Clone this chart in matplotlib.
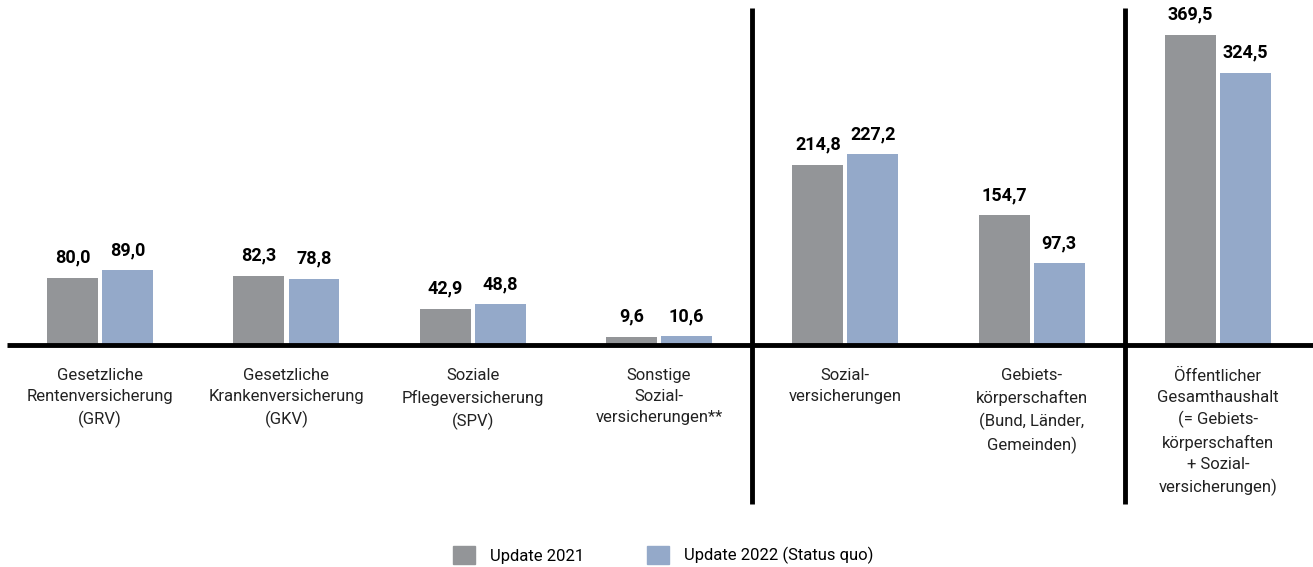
import matplotlib
matplotlib.use("Agg")
import matplotlib.pyplot as plt
from matplotlib.patches import Patch
import numpy as np

categories = [
    "Gesetzliche\nRentenversicherung\n(GRV)",
    "Gesetzliche\nKrankenversicherung\n(GKV)",
    "Soziale\nPflegeversicherung\n(SPV)",
    "Sonstige\nSozial-\nversicherungen**",
    "Sozial-\nversicherungen",
    "Gebiets-\nkörperschaften\n(Bund, Länder,\nGemeinden)",
    "Öffentlicher\nGesamthaushalt\n(= Gebiets-\nkörperschaften\n+ Sozial-\nversicherungen)",
]
update_2021 = [80.0, 82.3, 42.9, 9.6, 214.8, 154.7, 369.5]
update_2022 = [89.0, 78.8, 48.8, 10.6, 227.2, 97.3, 324.5]
series_names = ["Update 2021", "Update 2022 (Status quo)"]

gray = "#939598"
blue = "#94a9c9"

plt.rcParams["font.family"] = ["Roboto", "DejaVu Sans"]

fig = plt.figure(figsize=(13.13, 5.67), dpi=100)
ax = fig.add_axes([0, 0, 1, 1])

x = np.arange(len(categories))
w = 0.273
off = 0.148
b1 = ax.bar(x - off, update_2021, w, color=gray)
b2 = ax.bar(x + off, update_2022, w, color=blue)

fmt = lambda v: f"{v:.1f}".replace(".", ",")
for bars, vals in ((b1, update_2021), (b2, update_2022)):
    for r, v in zip(bars, vals):
        ax.annotate(fmt(v), (r.get_x() + r.get_width() / 2, v),
                    xytext=(0, 8), textcoords="offset points",
                    ha="center", va="bottom", fontsize=13, fontweight="bold")

for i, lab in enumerate(categories):
    ax.text(i, -28, lab, ha="center", va="top", fontsize=12,
            linespacing=1.5, color="#222222")

# baseline and separators
ax.plot([-0.5, 7], [0, 0], color="black", lw=3.5, solid_capstyle="butt")
for sx in (3.5, 5.5):
    ax.plot([sx, sx], [-190, 402], color="black", lw=3.5, solid_capstyle="butt")

ax.set_xlim(-0.537, 6.51)
ax.set_ylim(-264.6, 411.2)
ax.axis("off")

handles = [Patch(color=gray), Patch(color=blue)]
ax.legend(handles, series_names, loc="lower center", bbox_to_anchor=(0.505, -0.022),
          ncol=2, frameon=False, fontsize=12, handlelength=1.3, handleheight=1.3,
          handletextpad=0.9, columnspacing=3.8)

fig.savefig("out.png", dpi=100)
